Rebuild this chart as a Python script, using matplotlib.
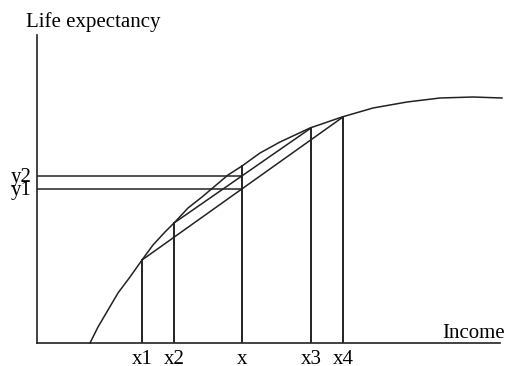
import matplotlib
matplotlib.use('Agg')
import matplotlib.pyplot as plt

# Curve (income, life expectancy)
curve_income = [53, 61, 71, 81, 93, 105, 116, 128, 138, 151, 165, 178, 191, 205,
                223, 243, 273, 305, 336, 370, 403, 436, 465]
curve_life = [0, 16, 33, 50, 66, 83, 98, 111, 121, 135, 146, 157, 168, 177,
              190, 201, 215, 226, 235, 241, 245, 246, 245]

# Marked incomes and the curve height there
point_names = ['x1', 'x2', 'x', 'x3', 'x4']
point_income = [105, 137, 205, 274, 306]
point_life = [83, 120, 177, 215, 226]

# Averages of the two pairs
y_names = ['y1', 'y2']
y_values = [154, 167]

plt.rcParams['font.family'] = ['Liberation Serif', 'DejaVu Serif']

fig = plt.figure(figsize=(5.07, 3.66), dpi=100)
ax = fig.add_axes([37 / 507, 23 / 366, 463 / 507, 308 / 366])
ax.set_xlim(0, 463)
ax.set_ylim(0, 308)
for s in ['top', 'right']:
    ax.spines[s].set_visible(False)
for s in ['left', 'bottom']:
    ax.spines[s].set_linewidth(1.2)
    ax.spines[s].set_color('#222222')
ax.set_xticks([])
ax.set_yticks([])

lw = 1.1
col = '#222222'
ax.plot(curve_income, curve_life, color=col, lw=lw, clip_on=False, solid_joinstyle='round')

# vertical lines up to the curve
for xi, yi, name in zip(point_income, point_life, point_names):
    ax.plot([xi, xi], [0, yi], color=col, lw=1.4)
    ax.text(xi, -21, name, ha='center', va='baseline', fontsize=15)

# chords x1-x4 and x2-x3
ax.plot([point_income[0], point_income[4]], [point_life[0], point_life[4]], color=col, lw=lw)
ax.plot([point_income[1], point_income[3]], [point_life[1], point_life[3]], color=col, lw=lw)

# horizontal lines for y1, y2
for yv, name in zip(y_values, y_names):
    ax.plot([0, point_income[2]], [yv, yv], color=col, lw=lw)
    ax.text(-5, yv - 6, name, ha='right', va='baseline', fontsize=15)

ax.text(-11, 316, 'Life expectancy', ha='left', va='baseline', fontsize=15)
ax.text(468, 5, 'Income', ha='right', va='baseline', fontsize=15)

fig.savefig('out.png', dpi=100)
